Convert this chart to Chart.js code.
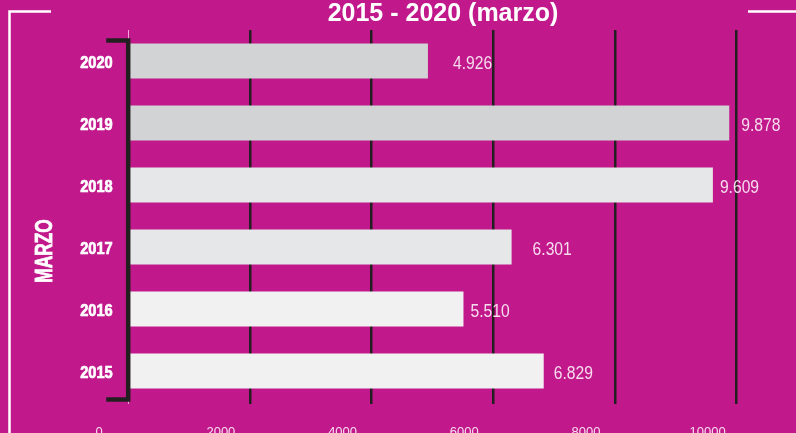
<!DOCTYPE html>
<html>
<head>
<meta charset="utf-8">
<script src="https://cdn.jsdelivr.net/npm/chart.js@4/dist/chart.umd.min.js"></script>
<style>
  html, body { margin: 0; padding: 0; background: #C1198B; overflow: hidden; }
  canvas { display: block; }
</style>
</head>
<body>
<canvas id="chart" width="796" height="433"></canvas>
<script>
// Marzo de cada año, 2015 - 2020
const years = ['2020', '2019', '2018', '2017', '2016', '2015'];
const marchValues = [4926, 9878, 9609, 6301, 5510, 6829];
const xTicks = [0, 2000, 4000, 6000, 8000, 10000];

const MAGENTA = '#C1198B';
const INK = '#231F20';
const SOFT_WHITE = '#F7DCEE';
const SANS = '"Liberation Sans", Arial, sans-serif';

const fmt = v => String(v).replace(/\B(?=(\d{3})+(?!\d))/g, '.');

// texto comprimido horizontalmente (estilo "condensed")
function narrowText(ctx, text, x, y, align, squeeze, heavy) {
  ctx.save();
  ctx.translate(x, y);
  ctx.scale(squeeze, 1);
  ctx.textAlign = align;
  ctx.fillText(text, 0, 0);
  if (heavy) {
    ctx.lineWidth = heavy;
    ctx.strokeStyle = ctx.fillStyle;
    ctx.strokeText(text, 0, 0);
  }
  ctx.restore();
}

const decor = {
  id: 'decor',
  beforeDraw(chart) {
    const { ctx, width, height } = chart;
    ctx.save();
    ctx.fillStyle = MAGENTA;
    ctx.fillRect(0, 0, width, height);
    ctx.restore();
  },
  afterDatasetsDraw(chart, args, opts) {
    const { ctx, chartArea } = chart;
    const xs = chart.scales.x;
    const ys = chart.scales.y;
    const x0 = xs.getPixelForValue(0);

    // corchete del eje de categorías
    ctx.save();
    ctx.strokeStyle = INK;
    ctx.lineWidth = 4.5;
    ctx.lineJoin = 'miter';
    ctx.beginPath();
    ctx.moveTo(x0 - 22, chartArea.top + 10.5);
    ctx.lineTo(x0, chartArea.top + 10.5);
    ctx.lineTo(x0, chartArea.bottom - 2.5);
    ctx.lineTo(x0 - 22, chartArea.bottom - 2.5);
    ctx.stroke();
    ctx.restore();

    // años
    ctx.save();
    ctx.fillStyle = '#FFFFFF';
    ctx.font = 'bold 17px ' + SANS;
    ctx.textBaseline = 'alphabetic';
    chart.data.labels.forEach((lab, i) => {
      narrowText(ctx, lab, ys.right - 15.5, ys.getPixelForTick(i) + 7, 'right', 0.86, 0.7);
    });
    ctx.restore();

    // etiquetas de valor
    const meta = chart.getDatasetMeta(0);
    ctx.save();
    ctx.fillStyle = SOFT_WHITE;
    ctx.font = '18px ' + SANS;
    ctx.textBaseline = 'alphabetic';
    meta.data.forEach((bar, i) => {
      const v = chart.data.datasets[0].data[i];
      narrowText(ctx, fmt(v), bar.x + opts.gaps[i], bar.y + 8, 'left', 0.87, 0);
    });
    ctx.restore();
  },
  afterDraw(chart) {
    const { ctx } = chart;
    ctx.save();
    // marco blanco
    ctx.strokeStyle = '#FFFFFF';
    ctx.lineWidth = 2.5;
    ctx.beginPath();
    ctx.moveTo(51, 11.5);
    ctx.lineTo(9.5, 11.5);
    ctx.lineTo(9.5, 433);
    ctx.moveTo(748, 11.5);
    ctx.lineTo(796, 11.5);
    ctx.stroke();

    // título
    ctx.fillStyle = '#FFFFFF';
    ctx.font = 'bold 25px ' + SANS;
    ctx.textAlign = 'center';
    ctx.textBaseline = 'alphabetic';
    ctx.fillText('2015 - 2020 (marzo)', 443, 21);

    // rótulo vertical
    ctx.translate(52, 251);
    ctx.rotate(-Math.PI / 2);
    ctx.scale(0.72, 1);
    ctx.font = 'bold 24px ' + SANS;
    ctx.textAlign = 'center';
    ctx.textBaseline = 'alphabetic';
    ctx.fillText('MARZO', 0, 0);
    ctx.lineWidth = 0.8;
    ctx.strokeStyle = '#FFFFFF';
    ctx.strokeText('MARZO', 0, 0);
    ctx.restore();
  }
};

new Chart(document.getElementById('chart'), {
  type: 'bar',
  data: {
    labels: years,
    datasets: [{
      data: marchValues,
      backgroundColor: ['#D1D3D4', '#D1D3D4', '#E6E7E8', '#E6E7E8', '#F1F1F2', '#F1F1F2'],
      borderWidth: 0,
      categoryPercentage: 1,
      barPercentage: 0.565
    }]
  },
  options: {
    indexAxis: 'y',
    responsive: false,
    devicePixelRatio: 1,
    animation: false,
    layout: { padding: { top: 30, left: 0, right: 0, bottom: 0 } },
    plugins: {
      legend: { display: false },
      title: { display: false },
      tooltip: { enabled: false },
      decor: { gaps: [25, 12, 7, 21, 7, 10] }
    },
    scales: {
      x: {
        type: 'linear',
        min: 0,
        max: 10975,
        afterBuildTicks: s => { s.ticks = xTicks.map(v => ({ value: v })); },
        afterFit: s => { s.height = 31; },
        border: { display: false },
        grid: {
          color: c => (c.tick && c.tick.value === 0) ? '#F2A6D8' : INK,
          lineWidth: c => (c.tick && c.tick.value === 0) ? 1 : 2.5,
          drawTicks: true,
          tickLength: 2
        },
        ticks: {
          callback: v => String(v),
          color: SOFT_WHITE,
          font: { family: SANS, size: 13 },
          padding: 21,
          labelOffset: -29,
          maxRotation: 0,
          autoSkip: false
        }
      },
      y: {
        afterFit: s => { s.width = 128.2; },
        border: { display: false },
        grid: { display: false, drawTicks: false },
        ticks: { display: false }
      }
    }
  },
  plugins: [decor]
});
</script>
</body>
</html>
